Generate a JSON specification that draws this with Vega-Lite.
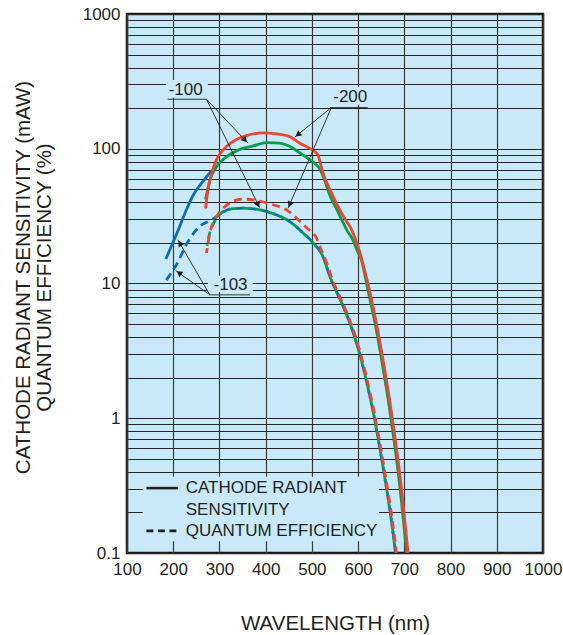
{
  "$schema": "https://vega.github.io/schema/vega-lite/v6.json",
  "width": 416,
  "height": 539,
  "autosize": "none",
  "padding": {"left": 127, "top": 14, "right": 20, "bottom": 82},
  "background": "white",
  "config": {
    "font": "Liberation Sans",
    "view": {"fill": "#c9e9f8", "stroke": "#1a1a1a", "strokeWidth": 2.5},
    "axis": {"domain": false, "ticks": false, "labelColor": "#231f20", "titleColor": "#231f20", "titleFontWeight": "normal", "labelOverlap": false, "labelBound": false}
  },
  "datasets": {
    "curves": [
      {"s": "-103", "m": "CRS", "nm": 184, "v": 15.2},
      {"s": "-103", "m": "CRS", "nm": 199, "v": 20},
      {"s": "-103", "m": "CRS", "nm": 214, "v": 26.5},
      {"s": "-103", "m": "CRS", "nm": 228, "v": 35},
      {"s": "-103", "m": "CRS", "nm": 246, "v": 47},
      {"s": "-103", "m": "CRS", "nm": 264, "v": 57},
      {"s": "-103", "m": "CRS", "nm": 286, "v": 70},
      {"s": "-103", "m": "CRS", "nm": 293, "v": 73},

      {"s": "-103", "m": "QE", "nm": 185, "v": 10.6},
      {"s": "-103", "m": "QE", "nm": 207, "v": 13.8},
      {"s": "-103", "m": "QE", "nm": 232, "v": 20.5},
      {"s": "-103", "m": "QE", "nm": 257, "v": 26.5},
      {"s": "-103", "m": "QE", "nm": 283, "v": 29.7},
      {"s": "-103", "m": "QE", "nm": 300, "v": 32.4},
      {"s": "-103", "m": "QE", "nm": 322, "v": 35.6},
      {"s": "-103", "m": "QE", "nm": 351, "v": 36.2},
      {"s": "-103", "m": "QE", "nm": 387, "v": 35.2},
      {"s": "-103", "m": "QE", "nm": 423, "v": 32.4},
      {"s": "-103", "m": "QE", "nm": 452, "v": 28.8},
      {"s": "-103", "m": "QE", "nm": 481, "v": 23.7},
      {"s": "-103", "m": "QE", "nm": 503, "v": 20},
      {"s": "-103", "m": "QE", "nm": 524, "v": 15.8},
      {"s": "-103", "m": "QE", "nm": 540, "v": 11.0},
      {"s": "-103", "m": "QE", "nm": 556, "v": 8.3},
      {"s": "-103", "m": "QE", "nm": 575, "v": 5.9},
      {"s": "-103", "m": "QE", "nm": 590, "v": 4.27},
      {"s": "-103", "m": "QE", "nm": 604, "v": 2.95},
      {"s": "-103", "m": "QE", "nm": 615, "v": 2.09},
      {"s": "-103", "m": "QE", "nm": 625, "v": 1.48},
      {"s": "-103", "m": "QE", "nm": 633, "v": 1.1},
      {"s": "-103", "m": "QE", "nm": 647, "v": 0.6},
      {"s": "-103", "m": "QE", "nm": 663, "v": 0.28},
      {"s": "-103", "m": "QE", "nm": 672, "v": 0.174},
      {"s": "-103", "m": "QE", "nm": 681, "v": 0.1},

      {"s": "-100", "m": "CRS", "nm": 270, "v": 42},
      {"s": "-100", "m": "CRS", "nm": 279, "v": 58},
      {"s": "-100", "m": "CRS", "nm": 293, "v": 73},
      {"s": "-100", "m": "CRS", "nm": 315, "v": 87},
      {"s": "-100", "m": "CRS", "nm": 344, "v": 99},
      {"s": "-100", "m": "CRS", "nm": 373, "v": 105},
      {"s": "-100", "m": "CRS", "nm": 402, "v": 111},
      {"s": "-100", "m": "CRS", "nm": 430, "v": 110},
      {"s": "-100", "m": "CRS", "nm": 459, "v": 101},
      {"s": "-100", "m": "CRS", "nm": 480, "v": 90},
      {"s": "-100", "m": "CRS", "nm": 506, "v": 78},
      {"s": "-100", "m": "CRS", "nm": 517, "v": 71},
      {"s": "-100", "m": "CRS", "nm": 528, "v": 58},
      {"s": "-100", "m": "CRS", "nm": 539, "v": 45},
      {"s": "-100", "m": "CRS", "nm": 551, "v": 37},
      {"s": "-100", "m": "CRS", "nm": 564, "v": 30},
      {"s": "-100", "m": "CRS", "nm": 577, "v": 24.5},
      {"s": "-100", "m": "CRS", "nm": 589, "v": 21},
      {"s": "-100", "m": "CRS", "nm": 598, "v": 17.5},
      {"s": "-100", "m": "CRS", "nm": 607, "v": 15},
      {"s": "-100", "m": "CRS", "nm": 621, "v": 9.0},
      {"s": "-100", "m": "CRS", "nm": 637, "v": 5.0},
      {"s": "-100", "m": "CRS", "nm": 647, "v": 3.24},
      {"s": "-100", "m": "CRS", "nm": 657, "v": 2.04},
      {"s": "-100", "m": "CRS", "nm": 671, "v": 1.0},
      {"s": "-100", "m": "CRS", "nm": 689, "v": 0.34},
      {"s": "-100", "m": "CRS", "nm": 705, "v": 0.1},

      {"s": "-100", "m": "QE", "nm": 273, "v": 19},
      {"s": "-100", "m": "QE", "nm": 279, "v": 23.7},
      {"s": "-100", "m": "QE", "nm": 290, "v": 29},
      {"s": "-100", "m": "QE", "nm": 300, "v": 32.4},
      {"s": "-100", "m": "QE", "nm": 322, "v": 35.6},
      {"s": "-100", "m": "QE", "nm": 351, "v": 36.2},
      {"s": "-100", "m": "QE", "nm": 387, "v": 35.2},
      {"s": "-100", "m": "QE", "nm": 423, "v": 32.4},
      {"s": "-100", "m": "QE", "nm": 452, "v": 28.8},
      {"s": "-100", "m": "QE", "nm": 481, "v": 23.7},
      {"s": "-100", "m": "QE", "nm": 503, "v": 20},
      {"s": "-100", "m": "QE", "nm": 524, "v": 15.8},
      {"s": "-100", "m": "QE", "nm": 540, "v": 11.0},
      {"s": "-100", "m": "QE", "nm": 556, "v": 8.3},
      {"s": "-100", "m": "QE", "nm": 575, "v": 5.9},
      {"s": "-100", "m": "QE", "nm": 590, "v": 4.27},
      {"s": "-100", "m": "QE", "nm": 604, "v": 2.95},
      {"s": "-100", "m": "QE", "nm": 615, "v": 2.09},
      {"s": "-100", "m": "QE", "nm": 625, "v": 1.48},
      {"s": "-100", "m": "QE", "nm": 633, "v": 1.1},
      {"s": "-100", "m": "QE", "nm": 647, "v": 0.6},
      {"s": "-100", "m": "QE", "nm": 663, "v": 0.28},
      {"s": "-100", "m": "QE", "nm": 672, "v": 0.174},
      {"s": "-100", "m": "QE", "nm": 681, "v": 0.1},

      {"s": "-200", "m": "CRS", "nm": 270, "v": 36},
      {"s": "-200", "m": "CRS", "nm": 275, "v": 49},
      {"s": "-200", "m": "CRS", "nm": 283, "v": 65},
      {"s": "-200", "m": "CRS", "nm": 293, "v": 82},
      {"s": "-200", "m": "CRS", "nm": 308, "v": 98},
      {"s": "-200", "m": "CRS", "nm": 329, "v": 113},
      {"s": "-200", "m": "CRS", "nm": 358, "v": 125},
      {"s": "-200", "m": "CRS", "nm": 394, "v": 131},
      {"s": "-200", "m": "CRS", "nm": 423, "v": 129},
      {"s": "-200", "m": "CRS", "nm": 452, "v": 123},
      {"s": "-200", "m": "CRS", "nm": 474, "v": 110},
      {"s": "-200", "m": "CRS", "nm": 490, "v": 103},
      {"s": "-200", "m": "CRS", "nm": 503, "v": 97},
      {"s": "-200", "m": "CRS", "nm": 513, "v": 90},
      {"s": "-200", "m": "CRS", "nm": 521, "v": 72},
      {"s": "-200", "m": "CRS", "nm": 530, "v": 58},
      {"s": "-200", "m": "CRS", "nm": 539, "v": 50},
      {"s": "-200", "m": "CRS", "nm": 552, "v": 40},
      {"s": "-200", "m": "CRS", "nm": 567, "v": 32},
      {"s": "-200", "m": "CRS", "nm": 586, "v": 25},
      {"s": "-200", "m": "CRS", "nm": 600, "v": 18.8},
      {"s": "-200", "m": "CRS", "nm": 614, "v": 12.6},
      {"s": "-200", "m": "CRS", "nm": 625, "v": 8.8},
      {"s": "-200", "m": "CRS", "nm": 640, "v": 5.0},
      {"s": "-200", "m": "CRS", "nm": 650, "v": 3.24},
      {"s": "-200", "m": "CRS", "nm": 660, "v": 2.04},
      {"s": "-200", "m": "CRS", "nm": 674, "v": 1.0},
      {"s": "-200", "m": "CRS", "nm": 692, "v": 0.34},
      {"s": "-200", "m": "CRS", "nm": 708, "v": 0.1},

      {"s": "-200", "m": "QE", "nm": 272, "v": 16.8},
      {"s": "-200", "m": "QE", "nm": 279, "v": 23.5},
      {"s": "-200", "m": "QE", "nm": 290, "v": 29.7},
      {"s": "-200", "m": "QE", "nm": 304, "v": 35},
      {"s": "-200", "m": "QE", "nm": 322, "v": 39.5},
      {"s": "-200", "m": "QE", "nm": 351, "v": 42.3},
      {"s": "-200", "m": "QE", "nm": 380, "v": 41.3},
      {"s": "-200", "m": "QE", "nm": 416, "v": 38.4},
      {"s": "-200", "m": "QE", "nm": 445, "v": 35.2},
      {"s": "-200", "m": "QE", "nm": 467, "v": 30.5},
      {"s": "-200", "m": "QE", "nm": 488, "v": 26},
      {"s": "-200", "m": "QE", "nm": 510, "v": 21.7},
      {"s": "-200", "m": "QE", "nm": 521, "v": 17.5},
      {"s": "-200", "m": "QE", "nm": 531, "v": 14.5},
      {"s": "-200", "m": "QE", "nm": 542, "v": 11.2},
      {"s": "-200", "m": "QE", "nm": 558, "v": 8.3},
      {"s": "-200", "m": "QE", "nm": 577, "v": 5.9},
      {"s": "-200", "m": "QE", "nm": 592, "v": 4.27},
      {"s": "-200", "m": "QE", "nm": 606, "v": 2.95},
      {"s": "-200", "m": "QE", "nm": 617, "v": 2.09},
      {"s": "-200", "m": "QE", "nm": 627, "v": 1.48},
      {"s": "-200", "m": "QE", "nm": 635, "v": 1.1},
      {"s": "-200", "m": "QE", "nm": 649, "v": 0.6},
      {"s": "-200", "m": "QE", "nm": 665, "v": 0.28},
      {"s": "-200", "m": "QE", "nm": 674, "v": 0.174},
      {"s": "-200", "m": "QE", "nm": 683, "v": 0.1}
    ],
    "boxes": [
      {"nm": 134, "nm2": 645, "v": 0.122, "v2": 0.368},
      {"nm": 184, "nm2": 275, "v": 239, "v2": 324},
      {"nm": 534, "nm2": 629, "v": 212, "v2": 288},
      {"nm": 275, "nm2": 372, "v": 8.6, "v2": 11.4}
    ],
    "labels": [
      {"nm": 227, "v": 273.5, "t": "-100"},
      {"nm": 583, "v": 244, "t": "-200"},
      {"nm": 324, "v": 9.77, "t": "-103"}
    ],
    "leaders": [
      {"nm": 188, "v": 233, "nm2": 272, "v2": 233},
      {"nm": 272, "v": 233, "nm2": 361, "v2": 110.6},
      {"nm": 272, "v": 233, "nm2": 387, "v2": 36.5},
      {"nm": 539, "v": 202, "nm2": 621, "v2": 202},
      {"nm": 542, "v": 202, "nm2": 463, "v2": 122},
      {"nm": 542, "v": 202, "nm2": 448.5, "v2": 36.2},
      {"nm": 279, "v": 8.24, "nm2": 366, "v2": 8.24},
      {"nm": 279, "v": 8.24, "nm2": 210, "v2": 21.1},
      {"nm": 279, "v": 8.24, "nm2": 205, "v2": 12.5}
    ],
    "keytext": [
      {"nm": 227, "v": 0.303, "t": "CATHODE RADIANT"},
      {"nm": 227, "v": 0.2096, "t": "SENSITIVITY"},
      {"nm": 227, "v": 0.146, "t": "QUANTUM EFFICIENCY"}
    ]
  },
  "encoding": {
    "x": {
      "field": "nm", "type": "quantitative",
      "scale": {"domain": [100, 1000], "nice": false, "zero": false},
      "axis": {
        "values": [100, 200, 300, 400, 500, 600, 700, 800, 900, 1000],
        "format": "d",
        "grid": true, "gridColor": "#3a3a3a", "gridWidth": 1.2,
        "labelFontSize": 17, "labelPadding": 8, "labelFlush": false,
        "title": "WAVELENGTH (nm)", "titleFontSize": 20.5,
        "titleX": 208, "titleY": 76, "titleBaseline": "alphabetic", "titleAlign": "center"
      }
    },
    "y": {
      "field": "v", "type": "quantitative",
      "scale": {"type": "log", "domain": [0.1, 1000], "nice": false},
      "axis": {
        "values": [0.1, 0.2, 0.3, 0.4, 0.5, 0.6, 0.7, 0.8, 0.9, 1, 2, 3, 4, 5, 6, 7, 8, 9, 10, 20, 30, 40, 50, 60, 70, 80, 90, 100, 200, 300, 400, 500, 600, 700, 800, 900, 1000],
        "format": "~g",
        "labelExpr": "indexof(['0.1','1','10','100','1000'], datum.label) >= 0 ? datum.label : ''",
        "grid": true, "gridColor": "#262626", "gridWidth": 1,
        "labelFontSize": 17, "labelPadding": 7,
        "title": ["CATHODE RADIANT SENSITIVITY (mAW)", "QUANTUM EFFICIENCY (%)"],
        "titleFontSize": 20.5, "titleLineHeight": 21,
        "titleAngle": -90, "titleX": -98, "titleY": 263, "titleAlign": "center", "titleBaseline": "alphabetic"
      }
    }
  },
  "layer": [
    {
      "data": {"name": "boxes"},
      "mark": {"type": "rect", "fill": "#c9e9f8", "stroke": null},
      "encoding": {"x2": {"field": "nm2"}, "y2": {"field": "v2"}}
    },
    {
      "data": {"name": "curves"},
      "transform": [{"filter": "datum.s == '-103' && datum.m == 'CRS'"}],
      "mark": {"type": "line", "color": "#0d6cb6", "strokeWidth": 2.8, "interpolate": "monotone", "clip": true},
      "encoding": {}
    },
    {
      "data": {"name": "curves"},
      "transform": [{"filter": "datum.s == '-103' && datum.m == 'QE'"}],
      "mark": {"type": "line", "color": "#0d6cb6", "strokeWidth": 2.8, "interpolate": "monotone", "strokeDash": [8, 5], "strokeDashOffset": 0, "clip": true},
      "encoding": {}
    },
    {
      "data": {"name": "curves"},
      "transform": [{"filter": "datum.s == '-100' && datum.m == 'CRS'"}],
      "mark": {"type": "line", "color": "#00a04e", "strokeWidth": 2.8, "interpolate": "monotone", "clip": true},
      "encoding": {}
    },
    {
      "data": {"name": "curves"},
      "transform": [{"filter": "datum.s == '-100' && datum.m == 'QE'"}],
      "mark": {"type": "line", "color": "#00a04e", "strokeWidth": 2.8, "interpolate": "monotone", "strokeDash": [8, 5], "strokeDashOffset": 6.5, "clip": true},
      "encoding": {}
    },
    {
      "data": {"name": "curves"},
      "transform": [{"filter": "datum.s == '-200' && datum.m == 'CRS'"}],
      "mark": {"type": "line", "color": "#ef4430", "strokeWidth": 2.8, "interpolate": "monotone", "clip": true},
      "encoding": {}
    },
    {
      "data": {"name": "curves"},
      "transform": [{"filter": "datum.s == '-200' && datum.m == 'QE'"}],
      "mark": {"type": "line", "color": "#ef4430", "strokeWidth": 2.8, "interpolate": "monotone", "strokeDash": [8, 5], "strokeDashOffset": 3, "clip": true},
      "encoding": {}
    },
    {
      "data": {"name": "leaders"},
      "mark": {"type": "rule", "color": "#231f20", "strokeWidth": 0.9},
      "encoding": {"x2": {"field": "nm2"}, "y2": {"field": "v2"}}
    },
    {
      "data": {"values": [{"nm": 355.4, "v": 116}]},
      "mark": {"type": "point", "shape": "triangle-up", "size": 45, "angle": 136.6, "filled": true, "color": "#231f20", "opacity": 1},
      "encoding": {}
    },
    {
      "data": {"values": [{"nm": 383.4, "v": 38.5}]},
      "mark": {"type": "point", "shape": "triangle-up", "size": 45, "angle": 153.9, "filled": true, "color": "#231f20", "opacity": 1},
      "encoding": {}
    },
    {
      "data": {"values": [{"nm": 469.7, "v": 127}]},
      "mark": {"type": "point", "shape": "triangle-up", "size": 45, "angle": 231.1, "filled": true, "color": "#231f20", "opacity": 1},
      "encoding": {}
    },
    {
      "data": {"values": [{"nm": 452, "v": 38.6}]},
      "mark": {"type": "point", "shape": "triangle-up", "size": 45, "angle": 203.3, "filled": true, "color": "#231f20", "opacity": 1},
      "encoding": {}
    },
    {
      "data": {"values": [{"nm": 214.7, "v": 19.9}]},
      "mark": {"type": "point", "shape": "triangle-up", "size": 45, "angle": 330, "filled": true, "color": "#231f20", "opacity": 1},
      "encoding": {}
    },
    {
      "data": {"values": [{"nm": 212.6, "v": 12.0}]},
      "mark": {"type": "point", "shape": "triangle-up", "size": 45, "angle": 305.6, "filled": true, "color": "#231f20", "opacity": 1},
      "encoding": {}
    },
    {
      "data": {"name": "labels"},
      "mark": {"type": "text", "fontSize": 17, "color": "#231f20", "align": "center", "baseline": "middle"},
      "encoding": {"text": {"field": "t"}}
    },
    {
      "data": {"values": [{"nm": 142, "nm2": 210, "v": 0.303, "v2": 0.303}]},
      "mark": {"type": "rule", "color": "#231f20", "strokeWidth": 2.6},
      "encoding": {"x2": {"field": "nm2"}, "y2": {"field": "v2"}}
    },
    {
      "data": {"values": [{"nm": 142, "nm2": 210, "v": 0.146, "v2": 0.146}]},
      "mark": {"type": "rule", "color": "#231f20", "strokeWidth": 2.6, "strokeDash": [7, 4.5]},
      "encoding": {"x2": {"field": "nm2"}, "y2": {"field": "v2"}}
    },
    {
      "data": {"name": "keytext"},
      "mark": {"type": "text", "fontSize": 17, "color": "#231f20", "align": "left", "baseline": "middle"},
      "encoding": {"text": {"field": "t"}}
    }
  ]
}
